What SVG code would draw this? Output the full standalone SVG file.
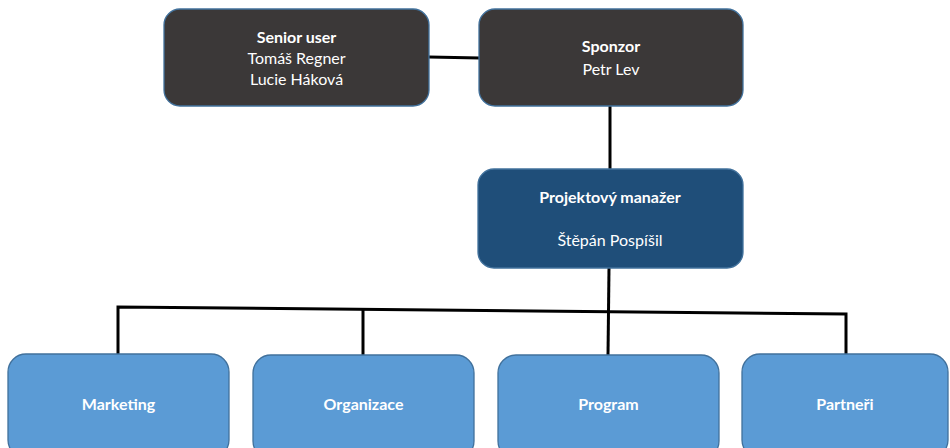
<svg xmlns="http://www.w3.org/2000/svg" width="950" height="448" viewBox="0 0 950 448">
  <style>
    .box { stroke: #41719c; stroke-width: 1.3; }
    .dark { fill: #3b3838; }
    .navy { fill: #1f4e79; }
    .light { fill: #5b9bd5; }
    text { font-family: "Lato", "Open Sans", "Liberation Sans", sans-serif; fill: #ffffff; text-anchor: middle; font-size: 16px; }
    .b { font-weight: bold; }
    .line { stroke: #000000; stroke-width: 3; fill: none; stroke-linejoin: miter; }
  </style>
  <rect width="950" height="448" fill="#ffffff"/>

  <!-- connectors -->
  <g id="connectors">
    <line class="line" x1="429" y1="57" x2="480" y2="58"/>
    <line class="line" x1="610" y1="106" x2="610" y2="170"/>
    <line class="line" x1="609" y1="268" x2="608" y2="355"/>
    <polyline class="line" points="118,355 118,307 846,314 846,355"/>
    <line class="line" x1="363" y1="310" x2="363" y2="355"/>
  </g>

  <g id="senior-user">
    <rect class="box dark" x="164" y="9" width="265" height="97" rx="16"/>
    <text x="296.5" y="43" class="b">Senior user</text>
    <text x="296.5" y="64">Tomáš Regner</text>
    <text x="296.5" y="85">Lucie Háková</text>
  </g>

  <g id="sponzor">
    <rect class="box dark" x="479" y="9" width="264" height="97" rx="16"/>
    <text x="611" y="52" class="b">Sponzor</text>
    <text x="611" y="75">Petr Lev</text>
  </g>

  <g id="projektovy-manazer">
    <rect class="box navy" x="478" y="169" width="265" height="99" rx="16"/>
    <text x="610" y="203" class="b">Projektový manažer</text>
    <text x="610" y="246">Štěpán Pospíšil</text>
  </g>

  <g id="marketing">
    <rect class="box light" x="8" y="354" width="221" height="104" rx="18"/>
    <text x="118.5" y="410" class="b">Marketing</text>
  </g>

  <g id="organizace">
    <rect class="box light" x="253" y="355" width="221" height="104" rx="18"/>
    <text x="363.5" y="410" class="b">Organizace</text>
  </g>

  <g id="program">
    <rect class="box light" x="498" y="355" width="221" height="104" rx="18"/>
    <text x="608.5" y="410" class="b">Program</text>
  </g>

  <g id="partneri">
    <rect class="box light" x="742" y="354" width="206" height="104" rx="18"/>
    <text x="845" y="410" class="b">Partneři</text>
  </g>
</svg>
